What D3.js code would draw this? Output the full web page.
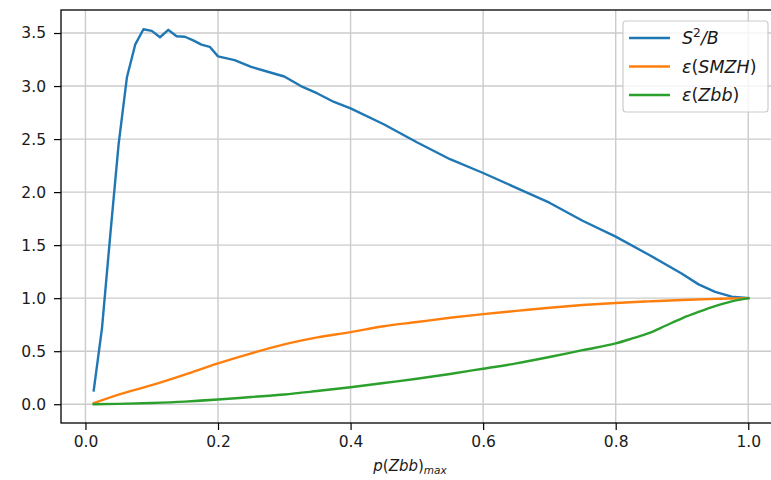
<!DOCTYPE html>
<html><head><meta charset="utf-8">
<script src="https://cdn.jsdelivr.net/npm/d3@7/dist/d3.min.js"></script>
<style>body{margin:0;background:#fff;} svg{display:block;font-family:"DejaVu Sans",sans-serif;}</style>
</head><body>
<svg id="c" width="771" height="480"></svg>
<script>
const sbX = [0.0125,0.025,0.0375,0.05,0.0625,0.075,0.0875,0.1,0.1125,0.125,0.1375,0.15,0.1625,0.175,0.1875,0.2,0.225,0.25,0.275,0.3,0.325,0.35,0.375,0.4,0.45,0.5,0.55,0.6,0.65,0.7,0.75,0.8,0.85,0.9,0.925,0.95,0.975,1.0];
const sbY = [0.13,0.72,1.6,2.45,3.08,3.39,3.535,3.52,3.46,3.53,3.47,3.465,3.43,3.39,3.37,3.28,3.245,3.18,3.135,3.09,3.0,2.93,2.85,2.79,2.64,2.47,2.31,2.18,2.04,1.90,1.73,1.58,1.41,1.23,1.13,1.06,1.015,1.0];
const smzhX = [0.0125,0.05,0.1,0.15,0.2,0.25,0.3,0.35,0.4,0.45,0.5,0.55,0.6,0.65,0.7,0.75,0.8,0.85,0.9,0.95,0.975,1.0];
const smzhY = [0.01,0.09,0.18,0.28,0.385,0.48,0.565,0.63,0.68,0.735,0.775,0.815,0.85,0.88,0.91,0.935,0.955,0.97,0.983,0.993,0.997,1.0];
const zbbX = [0.0125,0.05,0.1,0.15,0.2,0.25,0.3,0.35,0.4,0.45,0.5,0.55,0.6,0.65,0.7,0.75,0.8,0.825,0.85,0.875,0.9,0.925,0.95,0.975,1.0];
const zbbY = [0.0,0.003,0.012,0.025,0.044,0.068,0.092,0.125,0.16,0.2,0.24,0.285,0.335,0.385,0.445,0.51,0.573,0.62,0.67,0.74,0.81,0.87,0.925,0.97,1.0];
const xTicks = [0,0.2,0.4,0.6,0.8,1.0];
const yTicks = [0,0.5,1.0,1.5,2.0,2.5,3.0,3.5];
const seriesNames = ["S2B","SMZH","Zbb"];
const colors = ["#1f77b4","#ff7f0e","#2ca02c"];

const L=61, R=781, T=10, B=423;
const FS = 15.5;
const svg = d3.select("#c");
const x = d3.scaleLinear().domain([-0.0369,1.0494]).range([L,R]);
const y = d3.scaleLinear().domain([-0.177,3.717]).range([B,T]);

// grid
const g = svg.append("g");
g.selectAll(".gx").data(xTicks).join("line").attr("x1",d=>x(d)).attr("x2",d=>x(d)).attr("y1",T).attr("y2",B).attr("stroke","#cbcbcb").attr("stroke-width",1.4);
g.selectAll(".gy").data(yTicks).join("line").attr("y1",d=>y(d)).attr("y2",d=>y(d)).attr("x1",L).attr("x2",R).attr("stroke","#cbcbcb").attr("stroke-width",1.4);

const data = [d3.zip(sbX,sbY), d3.zip(smzhX,smzhY), d3.zip(zbbX,zbbY)];
const curves = [d3.curveLinear, d3.curveMonotoneX, d3.curveMonotoneX];
svg.selectAll(".ln").data(data).join("path").attr("fill","none").attr("stroke",(d,i)=>colors[i]).attr("stroke-width",2.4).attr("stroke-linejoin","round").attr("stroke-linecap","square")
  .attr("d",(d,i)=>d3.line().curve(curves[i]).x(p=>x(p[0])).y(p=>y(p[1]))(d));

// axes
const ax = svg.append("g").attr("transform",`translate(0,${B})`).call(d3.axisBottom(x).tickValues(xTicks).tickFormat(d3.format(".1f")).tickSize(7).tickPadding(6).tickSizeOuter(0));
const ay = svg.append("g").attr("transform",`translate(${L},0)`).call(d3.axisLeft(y).tickValues(yTicks).tickFormat(d3.format(".1f")).tickSize(7).tickPadding(8).tickSizeOuter(0));
[ax,ay].forEach(a=>{a.select(".domain").remove(); a.selectAll("text").attr("font-size",FS).attr("fill","#1a1a1a").attr("font-family","DejaVu Sans"); a.selectAll(".tick line").attr("stroke","#000").attr("stroke-width",1.2);});
// spines
svg.append("rect").attr("x",L).attr("y",T).attr("width",R-L).attr("height",B-T).attr("fill","none").attr("stroke","#000").attr("stroke-width",1.3);

// x label
const xl = svg.append("text").attr("x",410).attr("y",471).attr("text-anchor","middle").attr("font-size",15).attr("fill","#1a1a1a");
xl.append("tspan").attr("font-style","italic").text("p");
xl.append("tspan").text("(");
xl.append("tspan").attr("font-style","italic").text("Zbb");
xl.append("tspan").text(")");
xl.append("tspan").attr("font-style","italic").attr("font-size",15*0.7).attr("dy",3).text("max");

// legend
const lg = svg.append("g");
lg.append("rect").attr("x",623).attr("y",21).attr("width",145).attr("height",91).attr("rx",3).attr("fill","#fff").attr("fill-opacity",0.8).attr("stroke","#cccccc").attr("stroke-width",1.2);
const ly = [38,66.5,95];
const LFS = 17.5;
seriesNames.forEach((n,i)=>{
  lg.append("line").attr("x1",629).attr("x2",670).attr("y1",ly[i]).attr("y2",ly[i]).attr("stroke",colors[i]).attr("stroke-width",2.4);
  const t = lg.append("text").attr("x",682).attr("y",ly[i]+6).attr("font-size",LFS).attr("fill","#1a1a1a");
  if(i===0){
    t.append("tspan").attr("font-style","italic").text("S");
    t.append("tspan").attr("font-size",LFS*0.7).attr("dy",-7).text("2");
    t.append("tspan").attr("dy",7).attr("font-style","italic").text("/B");
  } else {
    t.append("tspan").attr("font-style","italic").text("ε");
    t.append("tspan").text("(");
    t.append("tspan").attr("font-style","italic").text(i===1?"SMZH":"Zbb");
    t.append("tspan").text(")");
  }
});
</script>
</body></html>
